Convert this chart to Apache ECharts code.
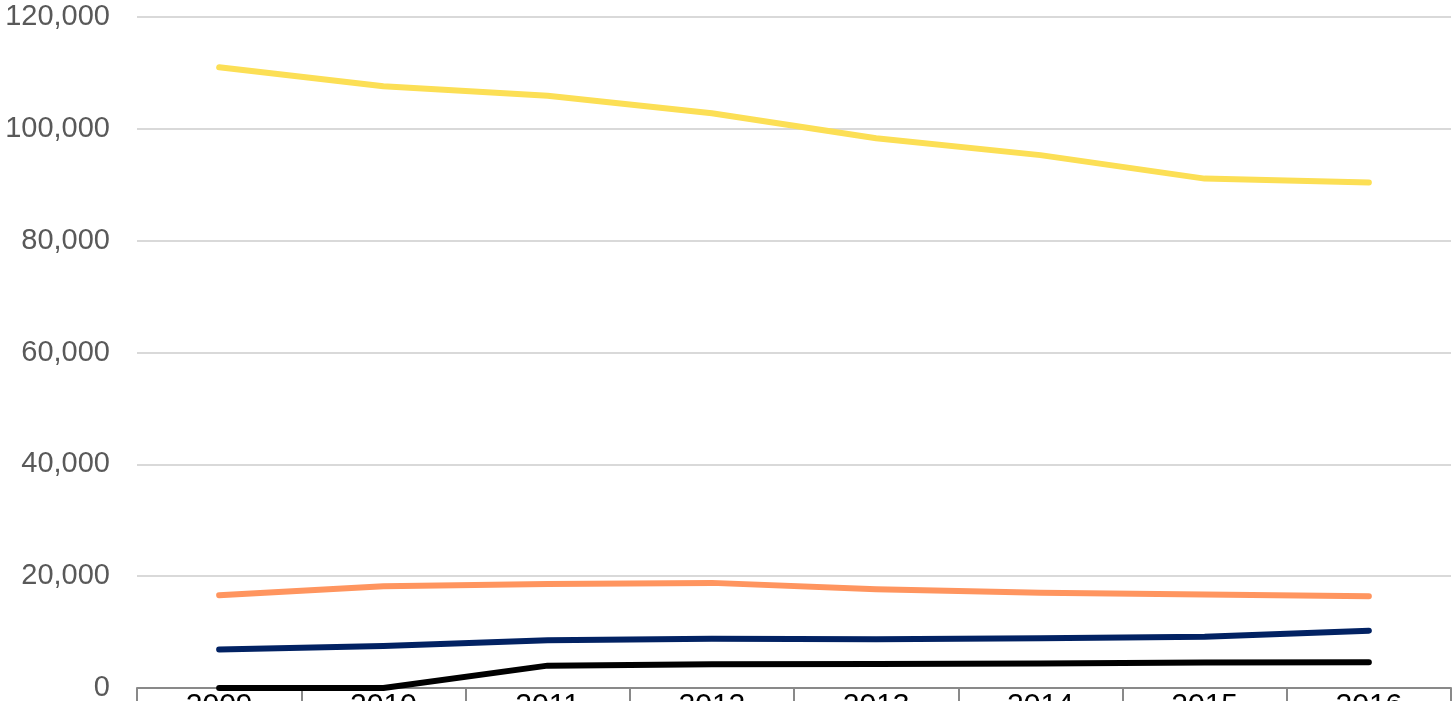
<!DOCTYPE html>
<html>
<head>
<meta charset="utf-8">
<script src="https://cdn.jsdelivr.net/npm/echarts@6/dist/echarts.min.js"></script>
<style>
html,body{margin:0;padding:0;background:#fff;}
#chart{width:1452px;height:701px;}
</style>
</head>
<body>
<div id="chart"></div>
<script>
const years = ['2009','2010','2011','2012','2013','2014','2015','2016'];
const yellowSeries = [111000, 107600, 105900, 102800, 98300, 95300, 91100, 90400];
const orangeSeries = [16600, 18200, 18600, 18800, 17650, 17050, 16700, 16400];
const navySeries = [6900, 7500, 8550, 8800, 8700, 8900, 9150, 10250];
const blackSeries = [0, 0, 4000, 4250, 4300, 4400, 4550, 4600];
const yTicks = {min: 0, max: 120000, interval: 20000};

const chart = echarts.init(document.getElementById('chart'), null, {renderer: 'canvas'});
function lineSeries(name, data, color) {
  return {
    name: name, type: 'line', data: data, symbol: 'none', smooth: false,
    lineStyle: {color: color, width: 6, cap: 'round', join: 'round'},
    itemStyle: {color: color}
  };
}
chart.setOption({
  animation: false,
  backgroundColor: '#ffffff',
  grid: {left: 137, right: 1, top: 17, bottom: 13, containLabel: false, outerBoundsMode: 'none'},
  xAxis: {
    type: 'category', data: years, boundaryGap: true,
    axisLine: {show: true, lineStyle: {color: '#898989', width: 2}},
    axisTick: {show: true, length: 20, lineStyle: {color: '#898989', width: 2}},
    axisLabel: {show: true, margin: 3, color: '#000000', fontSize: 30, fontFamily: 'Liberation Sans, Arial, sans-serif', hideOverlap: false},
    splitLine: {show: false}
  },
  yAxis: {
    type: 'value', min: yTicks.min, max: yTicks.max, interval: yTicks.interval,
    axisLine: {show: false}, axisTick: {show: false},
    axisLabel: {
      margin: 27, color: '#595959', fontSize: 29, fontFamily: 'Liberation Sans, Arial, sans-serif',
      formatter: function (v) { return v.toLocaleString('en-US'); }
    },
    splitLine: {show: true, lineStyle: {color: '#d9d9d9', width: 2}}
  },
  series: [
    lineSeries('Yellow', yellowSeries, '#fcdf55'),
    lineSeries('Orange', orangeSeries, '#ff955f'),
    lineSeries('Navy', navySeries, '#022263'),
    lineSeries('Black', blackSeries, '#000000')
  ]
});
</script>
</body>
</html>
